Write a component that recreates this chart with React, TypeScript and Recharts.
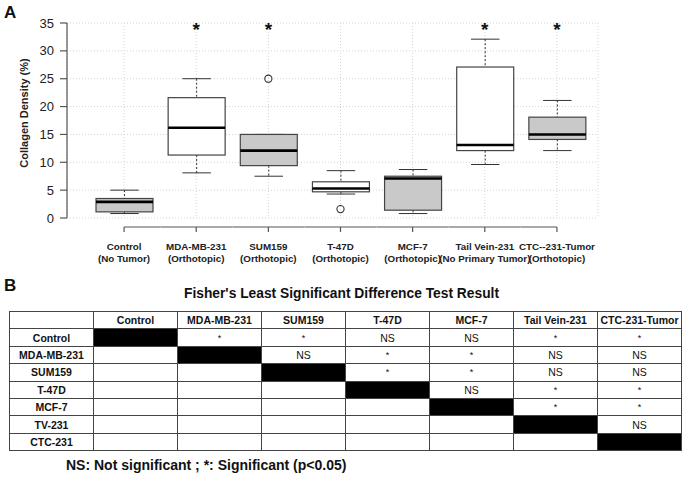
import React from 'react'
import {
  Bar,
  CartesianGrid,
  ComposedChart,
  Scatter,
  XAxis,
  YAxis,
} from 'recharts'

const groupLine1 = ['Control', 'MDA-MB-231', 'SUM159', 'T-47D', 'MCF-7', 'Tail Vein-231', 'CTC--231-Tumor']
const groupLine2 = ['(No Tumor)', '(Orthotopic)', '(Orthotopic)', '(Orthotopic)', '(Orthotopic)', '(No Primary Tumor)', '(Orthotopic)']

const lowWhisker = [0.8, 8.1, 7.5, 4.3, 0.8, 9.6, 12.1]
const lowerQuartile = [1.1, 11.3, 9.4, 4.7, 1.4, 12.1, 14.1]
const medians = [2.9, 16.2, 12.1, 5.3, 7.1, 13.1, 15.0]
const upperQuartile = [3.5, 21.6, 15.0, 6.5, 7.5, 27.1, 18.1]
const highWhisker = [5.0, 25.0, 15.0, 8.5, 8.7, 32.1, 21.1]
const outliers = [null, null, 25, 1.6, null, null, null]
const shaded = [true, false, true, false, true, false, true]
const significant = [false, true, true, false, false, true, true]

const yTicks = [0, 5, 10, 15, 20, 25, 30, 35]

const rowLabels = ['Control', 'MDA-MB-231', 'SUM159', 'T-47D', 'MCF-7', 'TV-231', 'CTC-231']
const colLabels = ['Control', 'MDA-MB-231', 'SUM159', 'T-47D', 'MCF-7', 'Tail Vein-231', 'CTC-231-Tumor']
// '-' marks the diagonal (black cell)
const lsdResults = [
  ['-', '*', '*', 'NS', 'NS', '*', '*'],
  ['', '-', 'NS', '*', '*', 'NS', 'NS'],
  ['', '', '-', '*', '*', 'NS', 'NS'],
  ['', '', '', '-', 'NS', '*', '*'],
  ['', '', '', '', '-', '*', '*'],
  ['', '', '', '', '', '-', 'NS'],
  ['', '', '', '', '', '', '-'],
]

const STAR_LEVEL = 34.5

const data = groupLine1.map((name, i) => ({
  name,
  box: [lowerQuartile[i], upperQuartile[i]],
  low: lowWhisker[i],
  q1: lowerQuartile[i],
  median: medians[i],
  q3: upperQuartile[i],
  high: highWhisker[i],
  outlier: outliers[i],
  star: significant[i] ? STAR_LEVEL : null,
  shaded: shaded[i],
}))

const font = 'Arial, "Liberation Sans", Helvetica, sans-serif'

const BoxShape = (props: any) => {
  const { x, y, width, height, payload } = props
  const top = Math.min(y, y + height)
  const h = Math.abs(height)
  const px = h / (payload.q3 - payload.q1)
  const yOf = (v: number) => top + (payload.q3 - v) * px
  const cx = x + width / 2
  const cap = width / 2
  return (
    <g>
      <line x1={cx} x2={cx} y1={yOf(payload.high)} y2={top} stroke="#333" strokeDasharray="2 2" />
      <line x1={cx} x2={cx} y1={top + h} y2={yOf(payload.low)} stroke="#333" strokeDasharray="2 2" />
      <line x1={cx - cap / 2} x2={cx + cap / 2} y1={yOf(payload.high)} y2={yOf(payload.high)} stroke="#333" />
      <line x1={cx - cap / 2} x2={cx + cap / 2} y1={yOf(payload.low)} y2={yOf(payload.low)} stroke="#333" />
      <rect x={x} y={top} width={width} height={h} fill={payload.shaded ? '#c9c9c9' : '#ffffff'} stroke="#444" strokeWidth={1.2} />
      <line x1={x} x2={x + width} y1={yOf(payload.median)} y2={yOf(payload.median)} stroke="#000" strokeWidth={2.6} />
    </g>
  )
}

const OutlierShape = (props: any) => {
  const { cx, cy, payload } = props
  if (payload.outlier == null || !isFinite(cy)) return null
  return <circle cx={cx} cy={cy} r={3.6} fill="none" stroke="#333" strokeWidth={1.1} />
}

const StarShape = (props: any) => {
  const { cx, cy, payload } = props
  if (payload.star == null || !isFinite(cy)) return null
  return (
    <text x={cx} y={cy + 10} textAnchor="middle" fontFamily={font} fontWeight="bold" fontSize={19} fill="#111">
      *
    </text>
  )
}

const GroupTick = (props: any) => {
  const { x, y, index } = props
  const half = 36
  const left = index === 0 ? x : x - half
  const right = index === groupLine1.length - 1 ? x : x + half
  return (
    <g>
      <line x1={left} x2={right} y1={y + 9} y2={y + 9} stroke="#555" strokeWidth={1.2} />
      <line x1={x} x2={x} y1={y + 9} y2={y + 14} stroke="#555" strokeWidth={1.2} />
      <text x={x} y={y + 32} textAnchor="middle" fontFamily={font} fontWeight="bold" fontSize={9.8} fill="#222">
        {groupLine1[index]}
      </text>
      <text x={x} y={y + 43.5} textAnchor="middle" fontFamily={font} fontWeight="bold" fontSize={9.8} fill="#222">
        {groupLine2[index]}
      </text>
    </g>
  )
}

const cellBorder = '1px solid #444'

export default function App() {
  return (
    <div style={{ position: 'absolute', left: 0, top: 0, width: 685, height: 477, background: '#fff', fontFamily: font }}>
      <div style={{ position: 'absolute', left: 4, top: 3, fontSize: 17, fontWeight: 'bold', color: '#111' }}>A</div>

      <ComposedChart
        width={685}
        height={270}
        data={data}
        margin={{ top: 23, right: 87, left: 8, bottom: 0 }}
        style={{ position: 'absolute', left: 0, top: 0 }}
      >
        <CartesianGrid stroke="#d4d4d4" strokeDasharray="1 2" />
        <XAxis
          dataKey="name"
          interval={0}
          padding={{ left: 21, right: 5 }}
          axisLine={false}
          tickLine={false}
          tickSize={0}
          tickMargin={0}
          height={52}
          tick={<GroupTick />}
        />
        <YAxis
          domain={[0, 35]}
          ticks={yTicks}
          width={59}
          tickSize={7}
          tickMargin={6}
          axisLine={{ stroke: '#555', strokeWidth: 1.2 }}
          tickLine={{ stroke: '#555', strokeWidth: 1.2 }}
          tick={{ fontSize: 13, fill: '#222', fontFamily: font }}
          label={{
            content: () => (
              <text
                x={24}
                y={113}
                transform="rotate(-90 24 113)"
                textAnchor="middle"
                dominantBaseline="central"
                fontFamily={font}
                fontWeight="bold"
                fontSize={11}
                fill="#222"
              >
                Collagen Density (%)
              </text>
            ),
          }}
        />
        <Bar dataKey="box" barSize={57} shape={<BoxShape />} isAnimationActive={false} />
        <Scatter dataKey="outlier" shape={<OutlierShape />} isAnimationActive={false} />
        <Scatter dataKey="star" shape={<StarShape />} isAnimationActive={false} />
      </ComposedChart>

      <div style={{ position: 'absolute', left: 4, top: 276, fontSize: 17, fontWeight: 'bold', color: '#111' }}>B</div>
      <div
        style={{
          position: 'absolute',
          left: 0,
          width: 683,
          top: 286,
          textAlign: 'center',
          fontSize: 13.8,
          fontWeight: 'bold',
          color: '#111',
        }}
      >
        Fisher's Least Significant Difference Test Result
      </div>

      <table
        style={{
          position: 'absolute',
          left: 9,
          top: 311,
          width: 673,
          borderCollapse: 'collapse',
          tableLayout: 'fixed',
          border: '1.5px solid #222',
          fontFamily: font,
          fontSize: 10.5,
          color: '#111',
        }}
      >
        <tbody>
          <tr style={{ height: 17.4 }}>
            <td style={{ border: cellBorder, padding: 0 }} />
            {colLabels.map((c) => (
              <td key={c} style={{ border: cellBorder, padding: 0, textAlign: 'center', fontWeight: 'bold', whiteSpace: 'nowrap' }}>
                {c}
              </td>
            ))}
          </tr>
          {rowLabels.map((r, i) => (
            <tr key={r} style={{ height: 17.4 }}>
              <td style={{ border: cellBorder, padding: 0, textAlign: 'center', fontWeight: 'bold' }}>{r}</td>
              {lsdResults[i].map((v, j) => (
                <td
                  key={j}
                  style={{
                    border: cellBorder,
                    padding: 0,
                    textAlign: 'center',
                    background: v === '-' ? '#000' : '#fff',
                    fontSize: v === '*' ? 9 : 10.5,
                  }}
                >
                  {v === '-' ? '' : v}
                </td>
              ))}
            </tr>
          ))}
        </tbody>
      </table>

      <div style={{ position: 'absolute', left: 66, top: 457, fontSize: 14, fontWeight: 'bold', color: '#111' }}>
        NS: Not significant ; *: Significant (p&lt;0.05)
      </div>
    </div>
  )
}
